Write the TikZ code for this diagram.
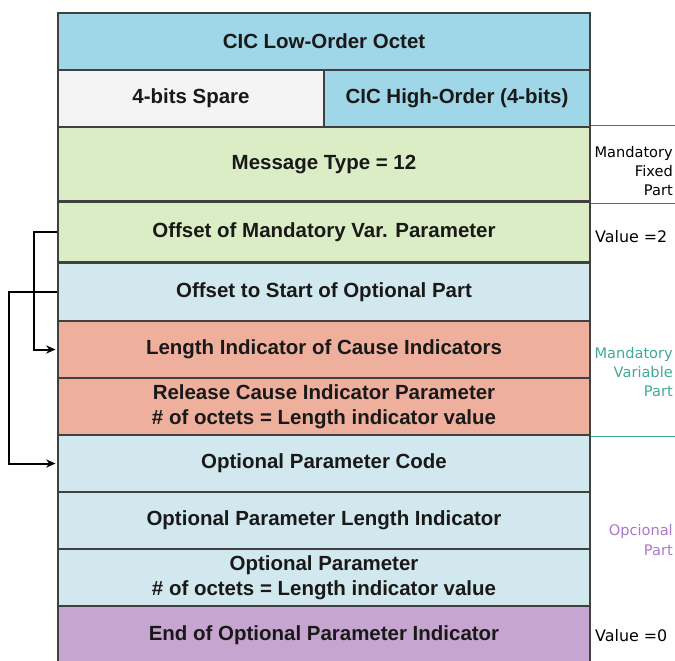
\documentclass[tikz,border=0pt]{standalone}
\usepackage{fontspec}
\setmainfont{Liberation Sans}
\newfontfamily\notefont{DejaVu Sans}
\usepackage{tikz}
\usetikzlibrary{arrows.meta}

\definecolor{cicblue}{RGB}{159,214,232}
\definecolor{sparegray}{RGB}{244,244,244}
\definecolor{fixgreen}{RGB}{218,237,196}
\definecolor{optblue}{RGB}{210,232,239}
\definecolor{varsalmon}{RGB}{238,175,157}
\definecolor{endpurple}{RGB}{198,166,208}
\definecolor{varteal}{RGB}{64,170,150}
\definecolor{optpurple}{RGB}{170,120,200}

\begin{document}
\begin{tikzpicture}[x=0.85pt,y=-0.85pt,>={Stealth[length=8pt,width=7pt]},
      field/.style={draw=black!75,line width=2.2pt,minimum width=452.2pt,
        minimum height=48.45pt,inner sep=0pt,align=center,text=black!90,
        font=\fontsize{17.4}{21}\selectfont\bfseries},
      half/.style={field,minimum width=226.1pt},
      note/.style={inner sep=0pt,font=\notefont\fontsize{13.5}{16.5}\selectfont},
      sidenote/.style={note,align=right,anchor=east,
        font=\notefont\fontsize{12.4}{16.5}\selectfont},
      sepline/.style={draw=black!60,line width=0.8pt},
      link/.style={->,line width=1.7pt,shorten >=1pt}]
      \useasboundingbox (0,0) rectangle (675,660);

      % fixed part
      \node[field,fill=cicblue] (ciclow) at (324, 41.5) {CIC Low-Order Octet};
      \node[half,fill=sparegray] (spare) at (191, 98.5) {4-bits Spare};
      \node[half,fill=cicblue] (cichigh) at (457, 98.5) {CIC High-Order (4-bits)};
      \node[field,fill=fixgreen,minimum height=63.75pt] (msgtype) at (324, 164.5) {Message Type = 12};
      \node[field,fill=fixgreen,minimum height=51.85pt] (ofsmand) at (324, 232) {Offset of Mandatory Var. Parameter};
      \node[field,fill=optblue,minimum height=49.3pt] (ofsopt) at (324, 292) {Offset to Start of Optional Part};

      % mandatory variable part
      \node[field,fill=varsalmon] (lenind) at (324, 349.5) {Length Indicator of Cause Indicators};
      \node[field,fill=varsalmon] (relcause) at (324, 406.5) {Release Cause Indicator Parameter\\\# of octets = Length indicator value};

      % optional part
      \node[field,fill=optblue] (optcode) at (324, 463.5) {Optional Parameter Code};
      \node[field,fill=optblue] (optlen) at (324, 520.5) {Optional Parameter Length Indicator};
      \node[field,fill=optblue] (optparam) at (324, 577.5) {Optional Parameter\\\# of octets = Length indicator value};
      \node[field,fill=endpurple,minimum height=49.3pt] (optend) at (324, 635) {End of Optional Parameter Indicator};

      % pointers
      \draw[link] (ofsmand.west) -- ++(-23,0) |- (lenind.west);
      \draw[link] (ofsopt.west) -- ++(-48,0) |- (optcode.west);

      % side notes
      \draw[sepline] (msgtype.north east) -- ++(90,0);
      \draw[sepline] (msgtype.south east) -- ++(90,0);
      \draw[sepline,draw=varteal] (relcause.south east) -- ++(90,0);

      \node[sidenote] (fixnote) at (673, 171) {Mandatory\\Fixed\\Part};
      \node[note,anchor=west] (val2) at (595, 237) {Value =2};
      \node[sidenote,text=varteal] (varnote) at (673, 372) {Mandatory\\Variable\\Part};
      \node[sidenote,text=optpurple] (optnote) at (673, 540) {Opcional\\Part};
      \node[note,anchor=west] (val0) at (595, 636) {Value =0};
\end{tikzpicture}
\end{document}
